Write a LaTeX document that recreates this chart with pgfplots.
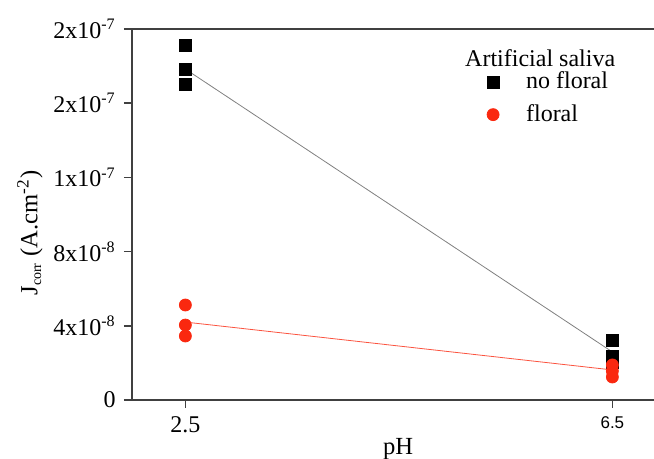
\documentclass[border=0pt]{standalone}
\usepackage{fontspec}
\setmainfont{Liberation Serif}
\setsansfont{Liberation Sans}
\usepackage{pgfplots}
\pgfplotsset{compat=1.18}
\definecolor{myred}{RGB}{250,40,15}
\begin{document}
\fontsize{12}{14.4}\selectfont
\begin{tikzpicture}
\begin{axis}[
 scale only axis, width=261pt, height=185.5pt,
 xmin=2, xmax=6.89, ymin=0, ymax=20,
 axis x line=box, axis y line=left,
 axis line style={-, line width=1pt, black!75},
 xtick pos=lower, ytick pos=lower,
 tick align=outside, major tick length=4pt,
 tick style={line width=0.8pt, black!75},
 xtick={2.5,6.5}, xticklabels={2.5,{\sffamily\fontsize{8.5}{10}\selectfont 6.5}},
 ytick={0,4,8,12,16,20},
 yticklabels={0,4x10\textsuperscript{-8},8x10\textsuperscript{-8},1x10\textsuperscript{-7},2x10\textsuperscript{-7},2x10\textsuperscript{-7}},
 ticklabel style={font=\fontsize{12}{14}\selectfont},
 xlabel={pH}, ylabel={J\textsubscript{\fontsize{7}{8}\selectfont corr} (A.cm\textsuperscript{-2})},
 every axis x label/.style={at={(rel axis cs:0.51,0)}, yshift=-27.5pt, anchor=base, font=\fontsize{12.3}{14}\selectfont},
 every axis y label/.style={at={(rel axis cs:0,0.45)}, xshift=-51pt, rotate=90, anchor=center, font=\fontsize{12.3}{14}\selectfont},
 clip=false,
 legend style={draw=none, fill=none, at={(rel axis cs:0.668,0.907)}, anchor=north west, font=\fontsize{12}{14}\selectfont, row sep=2pt, column sep=11.5pt},
 legend cell align=left,
]
\addplot[gray, line width=0.4pt, forget plot] coordinates {(2.5,17.84) (6.5,2.59)};
\addplot[myred!80, line width=0.4pt, forget plot] coordinates {(2.5,4.2) (6.5,1.62)};
\addplot[only marks, mark=square*, mark size=3pt, black] coordinates {(2.5,19.14) (2.5,17.84) (2.5,17.03) (6.5,3.23) (6.5,2.37) (6.5,2.0)};
\addlegendentry{no floral}
\addplot[only marks, mark=*, mark size=3pt, myred, mark options={draw=myred, fill=myred}] coordinates {(2.5,5.12) (2.5,4.04) (2.5,3.45) (6.5,1.89) (6.5,1.56) (6.5,1.24)};
\addlegendentry{floral}
\node[font=\fontsize{12}{14}\selectfont] at (rel axis cs:0.782,0.922) {Artificial saliva};
\coordinate (sw) at (rel axis cs:0,0);
\coordinate (ne) at (rel axis cs:1,1);
\end{axis}
\pgfresetboundingbox
\path[use as bounding box] ([shift={(-66pt,-29.5pt)}]sw) rectangle ([shift={(0pt,14.5pt)}]ne);
\end{tikzpicture}
\end{document}
